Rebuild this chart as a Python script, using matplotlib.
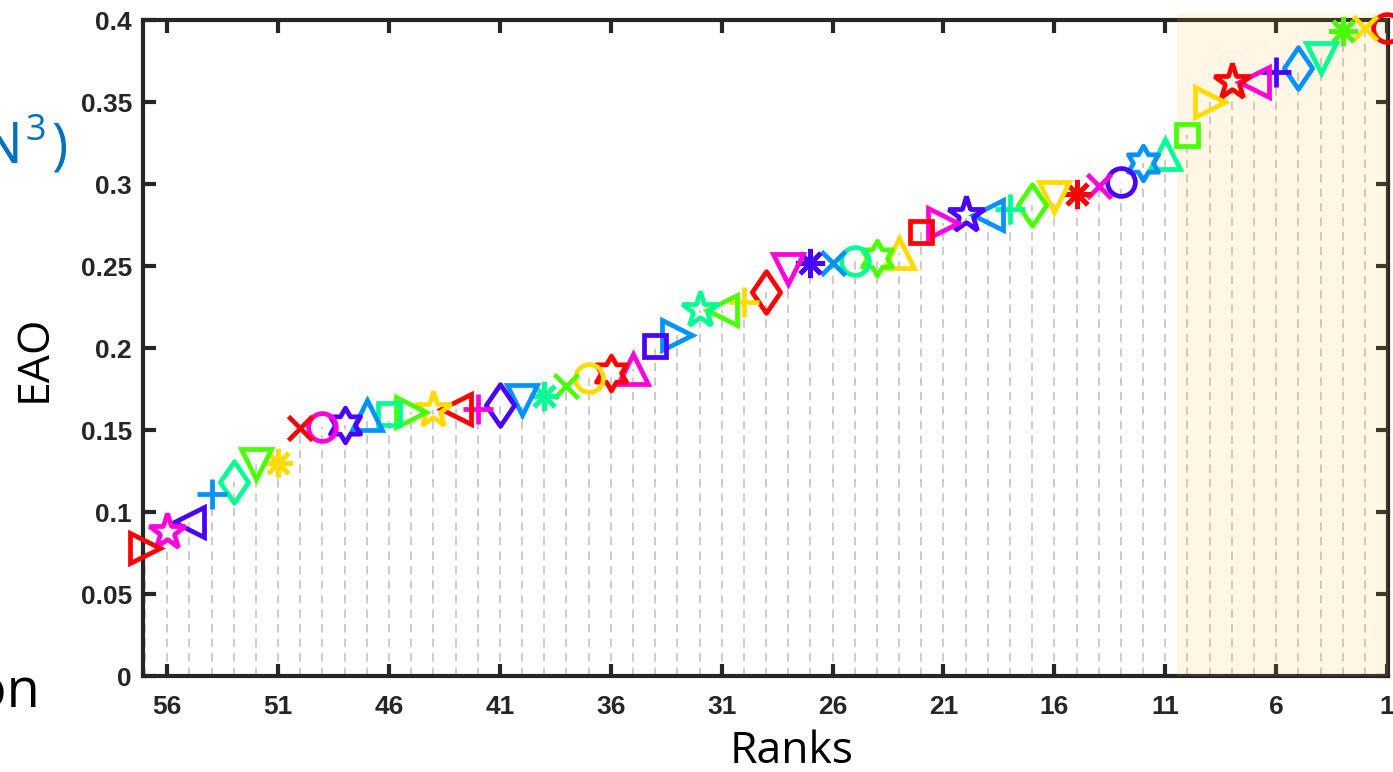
import numpy as np
import matplotlib
matplotlib.use("Agg")
import matplotlib.pyplot as plt
from matplotlib.path import Path
from matplotlib.patches import Rectangle

# ---------------- data ----------------
ranks = list(range(1, 58))
eao = [0.395, 0.395, 0.393, 0.377, 0.371, 0.368, 0.362, 0.362, 0.350, 0.330,
       0.318, 0.313, 0.301, 0.299, 0.294, 0.292, 0.287, 0.285, 0.281, 0.281,
       0.276, 0.271, 0.258, 0.255, 0.253, 0.252, 0.252, 0.248, 0.234, 0.228,
       0.223, 0.223, 0.208, 0.201, 0.187, 0.185, 0.182, 0.177, 0.171, 0.168,
       0.165, 0.163, 0.163, 0.162, 0.161, 0.160, 0.159, 0.153, 0.152, 0.151,
       0.130, 0.129, 0.118, 0.111, 0.094, 0.088, 0.078]
xtick_vals = [56, 51, 46, 41, 36, 31, 26, 21, 16, 11, 6, 1]
ytick_vals = [0, 0.05, 0.1, 0.15, 0.2, 0.25, 0.3, 0.35, 0.4]
ytick_labels = ["0", "0.05", "0.1", "0.15", "0.2", "0.25", "0.3", "0.35", "0.4"]
highlight_ranks = (10.47, 0.96)

# ---------------- styles ----------------
colors_cycle = [(1, 0, 0), (1, 0.857, 0), (0.286, 1, 0), (0, 1, 0.571),
                (0, 0.571, 1), (0.286, 0, 1), (1, 0, 0.857)]

def hexagram():
    ang = np.pi / 2 + np.arange(12) * np.pi / 6
    r = np.where(np.arange(12) % 2 == 0, 1.0, 1 / np.sqrt(3))
    v = np.column_stack([r * np.cos(ang), r * np.sin(ang)])
    v = np.vstack([v, v[:1]])
    codes = [Path.MOVETO] + [Path.LINETO] * 11 + [Path.CLOSEPOLY]
    return Path(v, codes)

def thin_diamond():
    v = np.array([[0, 1], [0.68, 0], [0, -1], [-0.68, 0], [0, 1]])
    return Path(v, [Path.MOVETO, Path.LINETO, Path.LINETO, Path.LINETO, Path.CLOSEPOLY])

# (marker, size in points)
marker_cycle = [("o", 20), ("x", 17), ((8, 2, 0), 21), ("v", 22), (thin_diamond(), 30),
                ("+", 21), ("<", 22), ("*", 27), (">", 22), ("s", 16),
                ("^", 22), (hexagram(), 25)]

W, H = 1393, 772
fig = plt.figure(figsize=(W / 100, H / 100), dpi=100)
ax = fig.add_axes([143 / W, 1 - 676 / H, (1388 - 143) / W, (676 - 20) / H])

dark = "#262626"

# dashed drop lines
for r, v in zip(ranks, eao):
    ax.plot([r, r], [0, v], color="#bdbdbd", lw=1.1, ls=(0, (5.5, 4)), zorder=1)

# highlight region
ax.add_patch(Rectangle((highlight_ranks[1], 0), highlight_ranks[0] - highlight_ranks[1], 0.4045,
                       facecolor=(1.0, 0.74, 0.18), alpha=0.12, edgecolor="none",
                       zorder=3, clip_on=False))

# markers
for i, (r, v) in enumerate(zip(ranks, eao)):
    m, ms = marker_cycle[i % 12]
    c = colors_cycle[i % 7]
    ax.plot([r], [v], linestyle="none", marker=m, markersize=ms,
            markerfacecolor="none", markeredgecolor=c, markeredgewidth=3.4,
            zorder=5, clip_on=False)

ax.set_xlim(57.09, 0.96)
ax.set_ylim(0, 0.4)
ax.set_xticks(xtick_vals)
ax.set_xticklabels([str(t) for t in xtick_vals])
ax.set_yticks(ytick_vals)
ax.set_yticklabels(ytick_labels)

for s in ax.spines.values():
    s.set_linewidth(3)
    s.set_color(dark)
ax.tick_params(axis="both", direction="in", length=9, width=3, color=dark,
               top=True, right=True, labelcolor=dark)
ax.tick_params(axis="x", pad=14)
ax.tick_params(axis="y", pad=8)
for lab in ax.get_xticklabels() + ax.get_yticklabels():
    lab.set_fontfamily("Liberation Sans")
    lab.set_fontweight("bold")
    lab.set_fontsize(19)

# axis labels (slide overlay text)
fig.text(792 / W, 1 - 763 / H, "Ranks", family="Open Sans", fontsize=32,
         ha="center", va="baseline", color="black")
fig.text(57 / W, 1 - 358 / H, "EAO", family="Open Sans", fontsize=32,
         ha="right", va="center", rotation=90, color="black")

# cut-off slide fragments
blue = "#0070C0"
fig.text(22 / W, 1 - 163 / H, "N", family="Open Sans", fontsize=40,
         ha="right", va="baseline", color=blue)
fig.text(25 / W, 1 - 140 / H, "3", family="Open Sans", fontsize=26,
         ha="left", va="baseline", color=blue)
fig.text(51 / W, 1 - 163 / H, ")", family="Open Sans", fontsize=40,
         ha="left", va="baseline", color=blue)
fig.text(40 / W, 1 - 707 / H, "on", family="Open Sans", fontsize=39,
         ha="right", va="baseline", color="black")

fig.savefig("out.png", dpi=100)
